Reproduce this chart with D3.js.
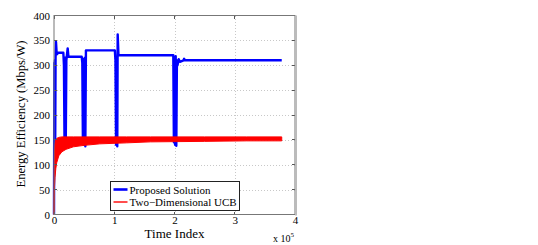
<!DOCTYPE html>
<html>
<head>
<meta charset="utf-8">
<script src="https://cdn.jsdelivr.net/npm/d3@7"></script>
<style>
  body { margin: 0; background: #fff; }
  svg text { font-family: "Liberation Serif", "DejaVu Serif", serif; fill: #000; }
</style>
</head>
<body>
<svg id="chart" width="538" height="245"></svg>
<script>
// Proposed Solution: time index / energy efficiency
var blueT = [0, 600, 1000, 1500, 2000, 2600, 3300, 4500, 7000, 15500,
  16500, 17500, 18500, 19500, 20500, 22700, 24000,
  46000, 47000, 48000, 49000, 50000, 51000, 52000, 53000,
  101000, 102000, 103000, 104000, 105000, 105700, 107000,
  198000, 199000, 200000, 201000, 202000, 203000, 204000, 205000, 207000, 209000,
  215000, 216000, 217000, 378000];
var blueE = [0, 305, 140, 310, 145, 315, 347, 322, 325, 325,
  300, 140, 315, 142, 310, 334, 317,
  317, 305, 145, 312, 140, 315, 137, 330,
  330, 310, 140, 312, 137, 362, 320,
  320, 145, 315, 140, 318, 138, 310, 300, 312, 307,
  310, 313, 310, 310];

// Two-Dimensional UCB: noisy band (upper / lower envelope)
var redT    = [0, 300, 800, 1700, 3000, 4500, 8000, 13000, 20000, 32000, 50000, 76000, 120000, 160000, 250000, 320000, 378000];
var redHigh = [0, 95, 125, 143, 150, 153, 155, 156, 156, 156, 156, 156, 156, 156, 156, 156, 156];
var redLow  = [0, 30, 55, 75, 92, 104, 118, 126, 131, 136, 139, 142, 144, 146, 147, 148, 148];

var xTicks = [0, 100000, 200000, 300000, 400000];
var yTicks = [0, 50, 100, 150, 200, 250, 300, 350, 400];
var legendLabels = ['Proposed Solution', 'Two\u2212Dimensional UCB'];

var pL = 54, pR = 295, pT = 15.5, pB = 214.5;
var serif = '"Liberation Serif", "DejaVu Serif", serif';

var svg = d3.select('#chart');

var x = d3.scaleLinear().domain([0, 400000]).range([pL, pR]);
var y = d3.scaleLinear().domain([0, 400]).range([pB, pT]);

// grid
var grid = svg.append('g').attr('class', 'grid')
  .attr('stroke', '#c8c8c8')
  .attr('stroke-dasharray', '1,2')
  .attr('shape-rendering', 'crispEdges');
grid.selectAll('line.gx')
  .data(xTicks.slice(1, -1))
  .enter().append('line')
  .attr('x1', function (d) { return Math.round(x(d)) + 0.5; })
  .attr('x2', function (d) { return Math.round(x(d)) + 0.5; })
  .attr('y1', pT).attr('y2', pB);
grid.selectAll('line.gy')
  .data(yTicks.slice(1, -1))
  .enter().append('line')
  .attr('y1', function (d) { return Math.round(y(d)) + 0.5; })
  .attr('y2', function (d) { return Math.round(y(d)) + 0.5; })
  .attr('x1', pL).attr('x2', pR);

// blue series
var blueLine = d3.line()
  .x(function (d, i) { return x(blueT[i]); })
  .y(function (d) { return y(d); });
svg.append('path')
  .datum(blueE)
  .attr('d', blueLine)
  .attr('fill', 'none')
  .attr('stroke', '#0000ff')
  .attr('stroke-width', 2.4)
  .attr('stroke-linejoin', 'round');

// red band
var redArea = d3.area()
  .x(function (d, i) { return x(redT[i]); })
  .y0(function (d, i) { return y(redLow[i]); })
  .y1(function (d) { return y(d); });
svg.append('path')
  .datum(redHigh)
  .attr('d', redArea)
  .attr('fill', '#ff0000')
  .attr('stroke', '#ff0000')
  .attr('stroke-width', 1);

// axes
var xAxis = d3.axisBottom(x).tickValues(xTicks).tickSize(0).tickPadding(2)
  .tickFormat(function (d) { return d / 100000; });
var yAxis = d3.axisLeft(y).tickValues(yTicks).tickSize(0).tickPadding(4);

svg.append('g')
  .attr('transform', 'translate(0,' + pB + ')')
  .call(xAxis)
  .attr('font-family', serif)
  .call(function (g) { g.select('.domain').remove(); })
  .selectAll('text').attr('font-size', 11);
svg.append('g')
  .attr('transform', 'translate(' + pL + ',0)')
  .call(yAxis)
  .attr('font-family', serif)
  .call(function (g) { g.select('.domain').remove(); })
  .selectAll('text').attr('font-size', 11);

// inward ticks on all sides
var ticks = svg.append('g').attr('stroke', '#555').attr('shape-rendering', 'crispEdges');
xTicks.forEach(function (d) {
  ticks.append('line').attr('x1', x(d)).attr('x2', x(d)).attr('y1', pB).attr('y2', pB - 3);
  ticks.append('line').attr('x1', x(d)).attr('x2', x(d)).attr('y1', pT).attr('y2', pT + 3);
});
yTicks.forEach(function (d) {
  ticks.append('line').attr('y1', y(d)).attr('y2', y(d)).attr('x1', pL).attr('x2', pL + 3);
  ticks.append('line').attr('y1', y(d)).attr('y2', y(d)).attr('x1', pR).attr('x2', pR - 3);
});

// box
svg.append('rect')
  .attr('x', pL).attr('y', pT)
  .attr('width', pR - pL).attr('height', pB - pT)
  .attr('fill', 'none')
  .attr('stroke', '#777')
  .attr('stroke-width', 1);
svg.append('line')
  .attr('x1', pR + 1).attr('x2', pR + 1)
  .attr('y1', pT).attr('y2', pB + 1)
  .attr('stroke', '#bbb').attr('stroke-width', 2);

// labels
svg.append('text')
  .attr('x', (pL + pR) / 2).attr('y', 238)
  .attr('text-anchor', 'middle')
  .attr('font-family', serif)
  .attr('font-size', 13)
  .text('Time Index');
svg.append('text')
  .attr('transform', 'translate(25,114) rotate(-90)')
  .attr('text-anchor', 'middle')
  .attr('font-family', serif)
  .attr('font-size', 12.6)
  .text('Energy Efficiency (Mbps/W)');
var mult = svg.append('text')
  .attr('x', 273).attr('y', 242)
  .attr('font-family', serif)
  .attr('font-size', 10);
mult.append('tspan').text('x 10');
mult.append('tspan').attr('dy', -5).attr('font-size', 7).text('5');

// legend
var lg = svg.append('g').attr('transform', 'translate(110.5,181.5)');
lg.append('rect')
  .attr('width', 129).attr('height', 29)
  .attr('fill', '#fff').attr('stroke', '#222');
var legColors = ['#0000ff', '#ff0000'];
var legWidths = [2.6, 1.4];
legendLabels.forEach(function (t, i) {
  var yy = 8 + i * 12.5;
  lg.append('line')
    .attr('x1', 3).attr('x2', 17).attr('y1', yy).attr('y2', yy)
    .attr('stroke', legColors[i]).attr('stroke-width', legWidths[i]);
  lg.append('text')
    .attr('x', 19).attr('y', yy + 4)
    .attr('font-family', serif)
    .attr('font-size', 11)
    .text(t);
});
</script>
</body>
</html>
